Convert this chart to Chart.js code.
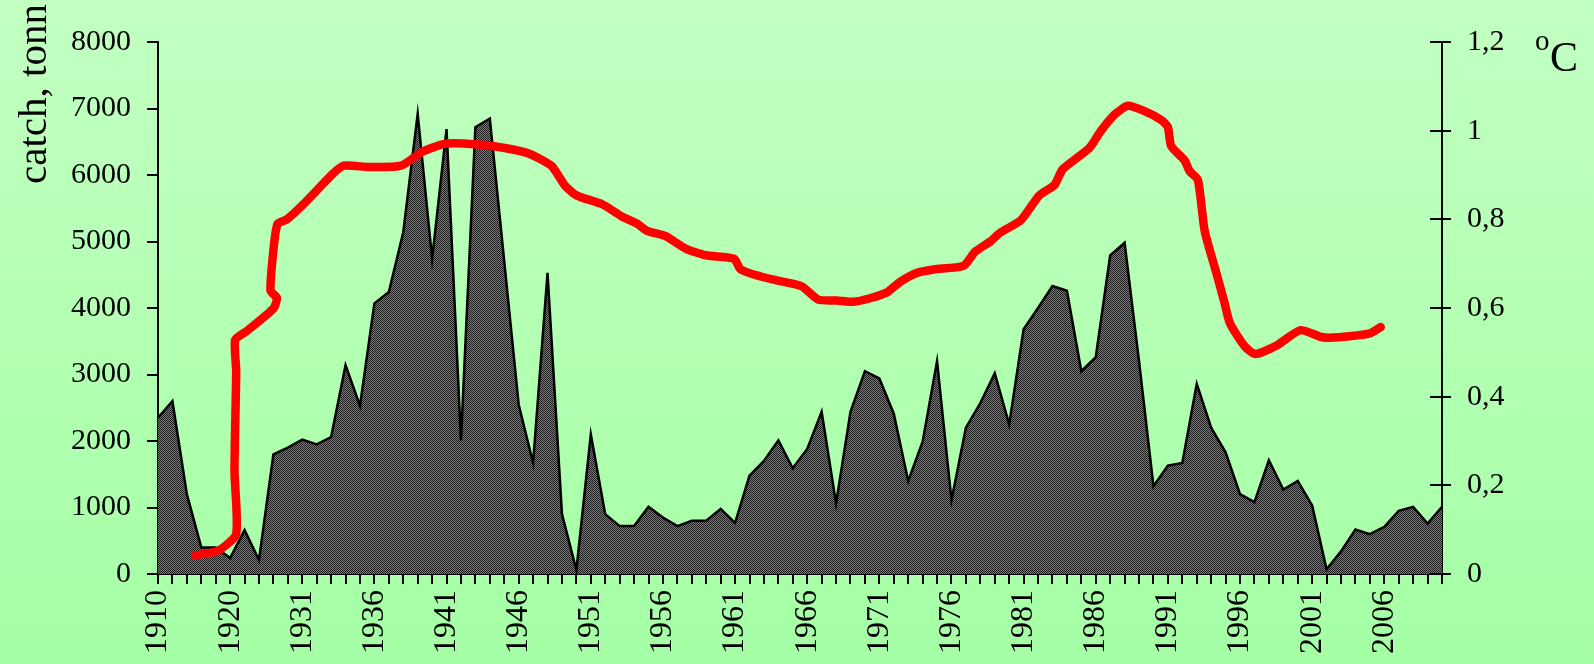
<!DOCTYPE html>
<html>
<head>
<meta charset="utf-8">
<script src="https://cdn.jsdelivr.net/npm/chart.js@4.4.1/dist/chart.umd.min.js"></script>
<style>
  html, body { margin: 0; padding: 0; }
  body { width: 1594px; height: 664px; background: linear-gradient(to bottom, #c2ffc2, #a5ffa5); overflow: hidden; }
  #wrap { width: 1594px; height: 664px; position: relative; }
</style>
</head>
<body>
<div id="wrap"><canvas id="c" width="1594" height="664"></canvas></div>
<script>
// Categories (years) on the x axis
const categories = [
  1910, 1912, 1914, 1916, 1918, 1920, 1922, 1925, 1927, 1929,
  1931, 1932, 1933, 1934, 1935, 1936, 1937, 1938, 1939, 1940,
  1941, 1942, 1943, 1944, 1945, 1946, 1947, 1948, 1949, 1950,
  1951, 1952, 1953, 1954, 1955, 1956, 1957, 1958, 1959, 1960,
  1961, 1962, 1963, 1964, 1965, 1966, 1967, 1968, 1969, 1970,
  1971, 1972, 1973, 1974, 1975, 1976, 1977, 1978, 1979, 1980,
  1981, 1982, 1983, 1984, 1985, 1986, 1987, 1988, 1989, 1990,
  1991, 1992, 1993, 1994, 1995, 1996, 1997, 1998, 1999, 2000,
  2001, 2002, 2003, 2004, 2005, 2006, 2007, 2008, 2009, 2010
];

// Catch, tonnes (area series)
const catchTonn = [
  2350, 2600, 1200, 400, 400, 240, 660, 210, 1800, 1900,
  2020, 1950, 2060, 3140, 2530, 4070, 4240, 5140, 6920, 4740,
  6690, 2010, 6720, 6850, 4700, 2550, 1670, 4530, 900, 60,
  2100, 900, 720, 720, 1010, 850, 720, 800, 800, 980,
  770, 1480, 1700, 2010, 1590, 1880, 2440, 1060, 2440, 3050,
  2940, 2410, 1400, 1990, 3200, 1110, 2200, 2570, 3020, 2250,
  3680, 4000, 4330, 4260, 3050, 3260, 4790, 4980, 3200, 1320,
  1630, 1670, 2860, 2200, 1830, 1200, 1080, 1710, 1270, 1400,
  1030, 70, 340, 670, 600, 710, 950, 1010, 760, 1010
];

// Temperature curve (°C): position along the category axis and value
const tempPos = [
  2.57, 4.19, 5.42, 5.30, 5.42, 5.35, 6.16, 8.01, 8.24, 7.80,
  8.01, 8.29, 8.94, 10.32, 12.06, 12.87, 14.60, 16.85, 18.36, 19.97,
  22.17, 24.03, 25.65, 27.27, 28.19, 29.00, 30.79, 32.18, 33.22, 33.91,
  35.19, 36.57, 37.96, 39.93, 40.39, 41.78, 43.06, 44.61, 45.76, 47.04,
  48.19, 49.35, 50.51, 51.44, 52.59, 53.75, 55.83, 56.64, 57.69, 58.38,
  59.81, 61.09, 62.13, 62.71, 64.56, 65.37, 66.30, 67.22, 68.38, 69.54,
  70.00, 70.23, 71.16, 71.50, 72.08, 72.55, 73.35, 73.90, 74.25, 74.68,
  75.37, 76.06, 77.57, 79.19, 80.69, 81.85, 83.94, 84.75
];
const tempVals = [
  0.042, 0.053, 0.090, 0.234, 0.457, 0.528, 0.548, 0.599, 0.623, 0.639,
  0.734, 0.790, 0.800, 0.842, 0.901, 0.921, 0.918, 0.921, 0.953, 0.971,
  0.969, 0.961, 0.949, 0.921, 0.877, 0.854, 0.834, 0.806, 0.790, 0.774,
  0.762, 0.734, 0.719, 0.711, 0.687, 0.671, 0.661, 0.649, 0.619, 0.617,
  0.614, 0.622, 0.635, 0.659, 0.679, 0.687, 0.695, 0.727, 0.750, 0.770,
  0.798, 0.854, 0.877, 0.913, 0.961, 1.000, 1.036, 1.056, 1.044, 1.024,
  1.008, 0.965, 0.933, 0.909, 0.889, 0.774, 0.680, 0.615, 0.570, 0.544,
  0.512, 0.496, 0.516, 0.550, 0.534, 0.534, 0.542, 0.557
];

const leftTicksMax = 8000, leftStep = 1000;
const rightTicksMax = 1.2, rightStep = 0.2;

// hatched fill pattern
function makePattern() {
  const p = document.createElement('canvas');
  p.width = 4; p.height = 4;
  const g = p.getContext('2d');
  g.fillStyle = '#7a7a7a';
  g.fillRect(0, 0, 4, 4);
  g.fillStyle = '#1e1e1e';
  for (let y = 0; y < 4; y++) {
    for (let x = 0; x < 4; x++) {
      if ((x + y) % 2 === 0) g.fillRect(x, y, 1, 1);
    }
  }
  return g.createPattern(p, 'repeat');
}

const FONT = "'Liberation Serif', 'Times New Roman', serif";

const textPlugin = {
  id: 'texts',
  afterDraw(chart) {
    const ctx = chart.ctx;
    ctx.save();
    ctx.fillStyle = '#000';
    // left title
    ctx.font = `41px ${FONT}`;
    ctx.translate(35, 94);
    ctx.rotate(-Math.PI / 2);
    ctx.textAlign = 'center';
    ctx.textBaseline = 'middle';
    ctx.fillText('catch, tonn', 0, 0);
    ctx.restore();

    ctx.save();
    ctx.fillStyle = '#000';
    ctx.textAlign = 'left';
    ctx.textBaseline = 'alphabetic';
    ctx.font = `29px ${FONT}`;
    ctx.fillText('o', 1535, 50);
    ctx.font = `42px ${FONT}`;
    ctx.fillText('C', 1550, 71);
    ctx.restore();

    // inner part of right axis ticks
    const yR = chart.scales.yR;
    ctx.save();
    ctx.strokeStyle = '#000';
    ctx.lineWidth = 2;
    yR.ticks.forEach(t => {
      const y = Math.round(yR.getPixelForValue(t.value));
      ctx.beginPath();
      ctx.moveTo(yR.left - 12, y);
      ctx.lineTo(yR.left, y);
      ctx.stroke();
    });
    ctx.restore();
  }
};

const ctx = document.getElementById('c').getContext('2d');
new Chart(ctx, {
  type: 'line',
  data: {
    labels: categories,
    datasets: [
      {
        label: 'temperature',
        data: tempPos.map((x, i) => ({ x: x, y: tempVals[i] })),
        xAxisID: 'xT',
        yAxisID: 'yR',
        borderColor: '#ff0000',
        borderWidth: 8.5,
        borderCapStyle: 'round',
        borderJoinStyle: 'round',
        pointRadius: 0,
        tension: 0.2,
        fill: false,
        clip: false,
        order: 1
      },
      {
        label: 'catch',
        data: catchTonn,
        xAxisID: 'x',
        yAxisID: 'yL',
        borderColor: '#000000',
        borderWidth: 2.5,
        backgroundColor: makePattern(),
        fill: 'origin',
        pointRadius: 0,
        tension: 0,
        order: 2
      }
    ]
  },
  options: {
    responsive: false,
    animation: false,
    events: [],
    layout: { padding: { top: 42, left: 0, right: 0, bottom: 0 } },
    plugins: { legend: { display: false }, tooltip: { enabled: false } },
    scales: {
      x: {
        type: 'category',
        offset: false,
        afterFit(s) { s.height = 90; },
        grid: { display: true, drawOnChartArea: false, drawTicks: true, tickLength: 10, color: '#000', lineWidth: 2, offset: false },
        border: { display: true, color: '#000', width: 2 },
        ticks: {
          autoSkip: false,
          minRotation: 90,
          maxRotation: 90,
          padding: 6,
          color: '#000',
          font: { family: FONT, size: 32 },
          callback(v, i) { return i % 5 === 0 ? String(categories[i]) : ''; }
        }
      },
      xT: {
        type: 'linear',
        display: false,
        min: 0,
        max: categories.length - 1
      },
      yL: {
        type: 'linear',
        position: 'left',
        min: 0,
        max: leftTicksMax,
        afterFit(s) { s.width = 158; },
        grid: { display: true, drawOnChartArea: false, tickLength: 11, color: '#000', lineWidth: 2 },
        border: { display: true, color: '#000', width: 2 },
        ticks: {
          stepSize: leftStep,
          padding: 16,
          color: '#000',
          font: { family: FONT, size: 30 },
          callback(v) { return String(v); }
        }
      },
      yR: {
        type: 'linear',
        position: 'right',
        min: 0,
        max: rightTicksMax,
        afterFit(s) { s.width = 152; },
        grid: { display: true, drawOnChartArea: false, tickLength: 9, color: '#000', lineWidth: 2 },
        border: { display: true, color: '#000', width: 2 },
        ticks: {
          stepSize: rightStep,
          padding: 16,
          color: '#000',
          font: { family: FONT, size: 30 },
          callback(v) {
            const r = Math.round(v * 10) / 10;
            return r === 0 ? '0' : String(r).replace('.', ',');
          }
        }
      }
    }
  },
  plugins: [textPlugin]
});
</script>
</body>
</html>
